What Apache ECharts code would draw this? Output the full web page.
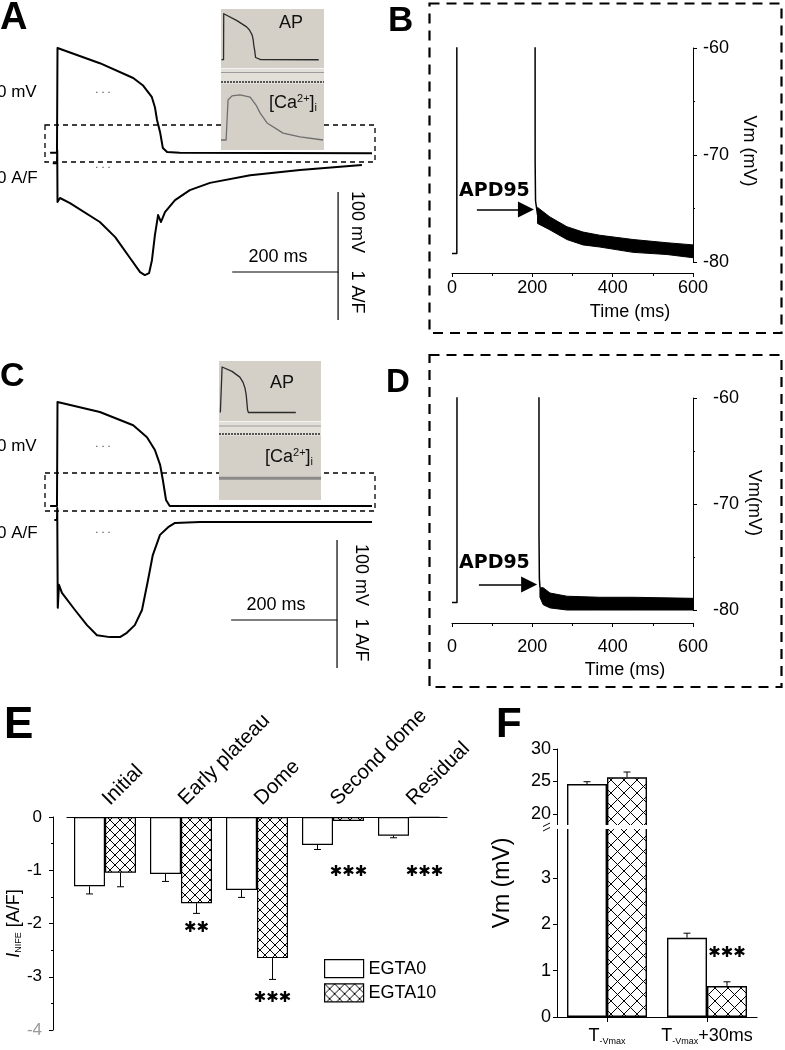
<!DOCTYPE html>
<html>
<head>
<meta charset="utf-8">
<script src="https://cdn.jsdelivr.net/npm/echarts@6.0.0/dist/echarts.min.js"></script>
<style>
html,body{margin:0;padding:0;background:#fff;}
#chart{width:785px;height:1050px;}
</style>
</head>
<body>
<div id="chart"></div>
<script>
// ================= DATA =================
// Panel A (EGTA0): action potential (mV) and I_NIFE (A/F) vs time (ms)
const apA_t = [-13, 0, 1, 81, 144, 162, 179, 185, 189, 195, 200, 208, 232, 595];
const apA_v = [-76, -76, 55, 36, 17.5, 8.5, -6, -19, -35, -51, -70, -75, -76, -76.5];
const inaA_t = [-8, 0, 0.5, 1, 5.7, 24.6, 81, 110, 138, 157, 166, 174, 179.4, 185, 191, 196.5, 204, 223, 251, 289, 365, 459, 576];
const inaA_a = [0.1, 0.1, 0.375, -0.71, -0.625, -0.73, -1.125, -1.44, -1.875, -2.17, -2.23, -2.19, -1.92, -1.4, -0.98, -1.125, -0.92, -0.67, -0.46, -0.31, -0.15, -0.04, 0.06];
// inset A: [Ca2+]i (F/F0)
const caA_t = [-16, 16, 28, 53, 103, 166, 203, 228, 272, 372, 478, 622];
const caA_r = [1.0, 1.0, 1.87, 1.96, 1.98, 1.93, 1.76, 1.59, 1.37, 1.15, 1.07, 1.0];
// scale bars A: 200 ms, 100 mV, 1 A/F
const scaleA_t = [331, 531];
const scaleA_mv = [-125, -225];
const scaleA_af = [-2.167, -3.167];

// Panel B (EGTA0): repolarisation detail
const apB_t = [0, 12, 12.2, 206, 207, 208, 213];
const apB_v = [-79.2, -79.2, 40, 40, -70.7, -74.3, -75.6];
const bandB_t = [213, 244, 286, 326, 368, 451, 535, 600];
const bandB_up = [-74.9, -75.8, -76.7, -77.2, -77.5, -77.9, -78.2, -78.4];
const bandB_lo = [-76.4, -77.0, -77.9, -78.4, -78.6, -79.1, -79.3, -79.6];
const apdArrowB_t = [62, 184];
const apdArrowB_v = -75.1;

// Panel C (EGTA10)
const apC_t = [-13, 0, 1, 81, 144, 170, 185, 195, 200, 206, 213, 595];
const apC_v = [-75, -75, 55, 42.5, 26, 11, -5, -24, -42.5, -67.5, -75, -75];
const inaC_t = [-5, 0, 0.5, 1.5, 3.8, 9.4, 34, 56.7, 75.6, 100, 119, 132, 147, 160.6, 172, 181, 194.6, 210, 223, 270, 595];
const inaC_a = [0.25, 0.25, 0.5, -1.58, -1.1, -1.27, -1.625, -1.94, -2.15, -2.19, -2.19, -2.1, -1.94, -1.625, -1.0, -0.48, -0.06, 0.1, 0.19, 0.21, 0.21];
const caC_t = [-24, 798];
const caC_r = [1.3, 1.3];
const scaleC_t = [329, 529];
const scaleC_mv = [-117.5, -217.5];
const scaleC_af = [-1.833, -2.833];

// Panel D (EGTA10)
const apD_t = [0, 12.4, 12.6, 216, 216.6, 217.5, 219];
const apD_v = [-79.3, -79.3, 40, 40, -72.9, -77.0, -77.9];
const bandD_t = [219, 227, 244, 286, 368, 451, 600];
const bandD_up = [-77.9, -77.9, -78.4, -78.7, -78.8, -78.8, -78.9];
const bandD_lo = [-78.8, -79.5, -79.8, -80, -80, -80, -80];
const apdArrowD_t = [67, 192];
const apdArrowD_v = -77.6;

// Panel E: I_NIFE per phase
const catsE = ['Initial', 'Early plateau', 'Dome', 'Second dome', 'Residual'];
const egta0E = [-1.30, -1.07, -1.37, -0.525, -0.35];
const egta0E_err = [0.145, 0.14, 0.14, 0.085, 0.04];
const egta10E = [-1.045, -1.62, -2.65, -0.075, -0.015];
const egta10E_err = [0.265, 0.19, 0.40, 0, 0];
const sigE = ['', '✱✱', '✱✱✱', '✱✱✱', '✱✱✱'];
const sigE_y = [null, -2.08, -3.40, -1.03, -1.03];

// Panel F: Vm
const catsF = ['T-Vmax', 'T-Vmax+30ms'];
const egta0F = [24.6, 1.71];
const egta0F_err = [0.37, 0.10];
const egta10F = [25.64, 0.67];
const egta10F_err = [0.82, 0.09];
const sigF = ['', '✱✱✱'];
const sigF_y = [null, 1.38];

// ================= HELPERS =================
const FONT = '"Liberation Sans", Arial, Helvetica, sans-serif';
const zip = (a, b) => a.map((v, i) => [v, b[i]]);

function hatchCanvas(size) {
  const c = document.createElement('canvas');
  c.width = size; c.height = size;
  const g = c.getContext('2d');
  g.fillStyle = '#fff'; g.fillRect(0, 0, size, size);
  g.strokeStyle = '#000'; g.lineWidth = 1;
  g.beginPath();
  g.moveTo(0, 0); g.lineTo(size, size);
  g.moveTo(size, 0); g.lineTo(0, size);
  g.stroke();
  return c;
}
const patE = { image: hatchCanvas(10), repeat: 'repeat' };
const patF = { image: hatchCanvas(13), repeat: 'repeat' };

function trace(xi, yi, data, width, color, extra) {
  return Object.assign({
    type: 'line', xAxisIndex: xi, yAxisIndex: yi, data: data,
    showSymbol: false, symbol: 'none', clip: true, silent: true, animation: false,
    lineStyle: { color: color || '#000', width: width || 1.5, join: 'round' }, z: 3
  }, extra || {});
}

function arrowMark(t, v) {
  return {
    silent: true, animation: false, symbol: ['none', 'triangle'], symbolSize: 16,
    lineStyle: { color: '#000', width: 1.5, type: 'solid' }, label: { show: false },
    itemStyle: { color: '#000' },
    data: [[{ coord: [t[0], v] }, { coord: [t[1], v] }]]
  };
}

function bandSeries(xi, yi, t, up, lo) {
  return {
    type: 'custom', xAxisIndex: xi, yAxisIndex: yi, silent: true, animation: false, z: 3,
    data: [[t[0], up[0]]],
    renderItem: function (params, api) {
      const pts = t.map((tt, i) => api.coord([tt, up[i]]))
        .concat(t.map((tt, i) => api.coord([tt, lo[i]])).reverse());
      return { type: 'polygon', shape: { points: pts }, style: { fill: '#000', stroke: '#000', lineWidth: 1 } };
    }
  };
}

function errSeries(xi, yi, vals, errs, side, bw) {
  return {
    type: 'custom', xAxisIndex: xi, yAxisIndex: yi, silent: true, animation: false, clip: true, z: 4,
    data: vals.map((v, i) => [i, v, errs[i]]),
    renderItem: function (params, api) {
      const i = api.value(0), v = api.value(1), e = api.value(2);
      if (!e) return null;
      const sgn = v < 0 ? -1 : 1;
      const p0 = api.coord([i, v]);
      const p1 = api.coord([i, v + sgn * e]);
      const x = p0[0] + side * bw / 2;
      return {
        type: 'group', children: [
          { type: 'line', shape: { x1: x, y1: p0[1], x2: x, y2: p1[1] }, style: { stroke: '#000', lineWidth: 1 } },
          { type: 'line', shape: { x1: x - 3.5, y1: p1[1], x2: x + 3.5, y2: p1[1] }, style: { stroke: '#000', lineWidth: 1 } }
        ]
      };
    }
  };
}

function sigSeries(xi, yi, labels, ys, side, bw, size) {
  const data = [];
  labels.forEach((s, i) => { if (s) data.push([i, ys[i], i]); });
  return {
    type: 'custom', xAxisIndex: xi, yAxisIndex: yi, silent: true, animation: false, z: 6,
    data: data,
    renderItem: function (params, api) {
      const p = api.coord([api.value(0), api.value(1)]);
      return {
        type: 'text', x: p[0] + side * bw / 2, y: p[1],
        style: { text: labels[api.value(2)], fontSize: size, fontFamily: '"DejaVu Sans", sans-serif',
          fill: '#000', textAlign: 'center', textVerticalAlign: 'middle' }
      };
    }
  };
}

// rotated category labels for panel E, anchored at each category on the zero line
function catLabelSeries(xi, yi, cats) {
  return {
    type: 'custom', xAxisIndex: xi, yAxisIndex: yi, silent: true, animation: false, z: 6,
    data: cats.map((c, i) => [i, 0]),
    renderItem: function (params, api) {
      const p = api.coord([api.value(0), api.value(1)]);
      return {
        type: 'text', x: p[0] + 1, y: p[1] - 15, rotation: Math.PI / 4,
        style: { text: cats[params.dataIndex], fontSize: 20.5, fontFamily: FONT, fill: '#000',
          textAlign: 'left', textVerticalAlign: 'middle' }
      };
    }
  };
}

function txt(x, y, text, o) {
  o = o || {};
  return {
    type: 'text', x: x, y: y, rotation: o.rot || 0, z: o.z || 50, silent: true,
    scaleX: o.sx || 1,
    style: {
      text: text, fill: o.fill || '#000', fontSize: o.size || 18,
      fontFamily: o.family || FONT, fontWeight: o.bold ? 'bold' : 'normal',
      textAlign: o.align || 'left', textVerticalAlign: o.valign || 'middle',
      rich: o.rich
    }
  };
}
const hline = (x1, x2, y, stroke, w, dash, z) => ({ type: 'line', silent: true, z: z || 2,
  shape: { x1: x1, y1: y, x2: x2, y2: y }, style: { stroke: stroke, lineWidth: w, lineDash: dash || null } });

const caRich = {
  a: { fontSize: 18, fontFamily: FONT, fill: '#111' },
  sup: { fontSize: 11, fontFamily: FONT, fill: '#111', padding: [0, 0, 9, 0] },
  sub: { fontSize: 11, fontFamily: FONT, fill: '#111', padding: [9, 0, 0, 0] }
};

const axBlack = { show: true, onZero: false, lineStyle: { color: '#000', width: 1 } };
const tickBlack = (len, extra) => Object.assign({ show: true, length: len, lineStyle: { color: '#000', width: 1 } }, extra || {});
const hiddenX = (gi, min, max) => ({ type: 'value', gridIndex: gi, min: min, max: max, show: false });
const hiddenY = (gi, min, max) => ({ type: 'value', gridIndex: gi, min: min, max: max, show: false });

function traceAxisX(gi, offset, margin) {
  return {
    type: 'value', gridIndex: gi, min: 0, max: 600, interval: 200, offset: offset,
    axisLine: axBlack, axisTick: tickBlack(4),
    minorTick: { show: true, splitNumber: 2, length: 3, lineStyle: { color: '#000' } },
    axisLabel: { fontSize: 18, color: '#000', margin: margin, fontFamily: FONT },
    splitLine: { show: false }, minorSplitLine: { show: false }
  };
}
function traceAxisY(gi, margin) {
  return {
    type: 'value', gridIndex: gi, min: -80, max: -60, interval: 10, position: 'right',
    axisLine: axBlack, axisTick: tickBlack(4),
    minorTick: { show: true, splitNumber: 2, length: 2, lineStyle: { color: '#000' } },
    axisLabel: { fontSize: 18, color: '#000', margin: margin, fontFamily: FONT },
    splitLine: { show: false }, minorSplitLine: { show: false }
  };
}

// ================= OPTION =================
const gridsPos = [
  { left: 30.5, top: 10, width: 360, height: 320 },   // 0 A main
  { left: 221, top: 9, width: 103, height: 141 },     // 1 A inset
  { left: 452, top: 48, width: 241, height: 214 },    // 2 B
  { left: 30.5, top: 364, width: 360, height: 320 },  // 3 C main
  { left: 219, top: 361, width: 102, height: 139 },   // 4 C inset
  { left: 452, top: 398, width: 241, height: 212 },   // 5 D
  { left: 67, top: 817, width: 380, height: 213 },    // 6 E
  { left: 557, top: 749, width: 200, height: 78 },    // 7 F upper
  { left: 557, top: 827, width: 200, height: 190 }    // 8 F lower
];

const fLabelFmt = v => v.replace(/^T(-Vmax)(.*)$/, (m, a, b) => '{t|T}{s|' + a + '}' + (b ? '{t|' + b + '}' : ''));
const fRich = {
  t: { fontSize: 18, fontFamily: FONT, color: '#000' },
  s: { fontSize: 9, fontFamily: FONT, color: '#000', padding: [10, 0, 0, 0] }
};

const option = {
  backgroundColor: '#fff',
  animation: false,
  grid: gridsPos.map(g => Object.assign({ containLabel: false, outerBoundsMode: 'none' }, g)),
  xAxis: [
    hiddenX(0, -50, 630),
    hiddenX(1, -16, 628),
    traceAxisX(2, 11, 6),
    hiddenX(3, -50, 630),
    hiddenX(4, -24, 798),
    traceAxisX(5, 13, 15),
    {
      type: 'category', gridIndex: 6, data: catsE, position: 'top',
      axisLine: { show: true, onZero: false, lineStyle: { color: '#000', width: 1.2 } },
      axisTick: { show: false },
      axisLabel: { show: false }
    },
    { type: 'category', gridIndex: 7, data: catsF, show: false },
    {
      type: 'category', gridIndex: 8, data: catsF,
      axisLine: { show: true, onZero: false, lineStyle: { color: '#000', width: 1.2 } },
      axisTick: tickBlack(5, { alignWithLabel: true }),
      axisLabel: { interval: 0, margin: 10, formatter: fLabelFmt, rich: fRich }
    }
  ],
  yAxis: [
    hiddenY(0, -297.5, 102.5),            // 0 A mV
    hiddenY(0, -3.375, 3.2917),           // 1 A A/F
    hiddenY(1, -334.3, 68.57),            // 2 inset A AP
    hiddenY(1, 0.7826, 3.848),            // 3 inset A Ca
    traceAxisY(2, 10),                    // 4 B
    hiddenY(3, -297.5, 102.5),            // 5 C mV
    hiddenY(3, -3.1667, 3.5),             // 6 C A/F
    hiddenY(4, -325, 72.1),               // 7 inset C AP
    hiddenY(4, 0.826, 3.848),             // 8 inset C Ca
    traceAxisY(5, 20),                    // 9 D
    {                                     // 10 E
      type: 'value', gridIndex: 6, min: -4, max: 0, interval: 1, offset: 14,
      axisLine: axBlack, axisTick: tickBlack(4),
      minorTick: { show: true, splitNumber: 2, length: 2, lineStyle: { color: '#000' } },
      axisLabel: { fontSize: 17, margin: 11, fontFamily: FONT,
        color: v => (Number(v) === -4 ? '#9a9a9a' : '#000') },
      splitLine: { show: false }, minorSplitLine: { show: false },
      name: '{i|I}{s|NIFE}{n| [A/F]}', nameLocation: 'middle', nameGap: 23, nameRotate: 90,
      nameTextStyle: { rich: {
        i: { fontSize: 18, fontStyle: 'italic', fontFamily: FONT, color: '#000' },
        s: { fontSize: 9, fontFamily: FONT, color: '#000', padding: [9, 0, 0, 0] },
        n: { fontSize: 18, fontFamily: FONT, color: '#000' } } }
    },
    {                                     // 11 F upper
      type: 'value', gridIndex: 7, min: 18, max: 30,
      axisLine: axBlack, axisTick: tickBlack(4, { customValues: [20, 25, 30] }),
      axisLabel: { customValues: [20, 25, 30], fontSize: 18, margin: 6, color: '#000', fontFamily: FONT },
      splitLine: { show: false }
    },
    {                                     // 12 F lower
      type: 'value', gridIndex: 8, min: 0, max: 4.1037,
      axisLine: axBlack, axisTick: tickBlack(4, { customValues: [0, 1, 2, 3] }),
      axisLabel: { customValues: [0, 1, 2, 3], fontSize: 18, margin: 6, color: '#000', fontFamily: FONT },
      splitLine: { show: false }
    }
  ],
  legend: {
    data: ['EGTA0', 'EGTA10'], orient: 'vertical', left: 319, top: 954,
    itemWidth: 39, itemHeight: 18, itemGap: 5, selectedMode: false, icon: 'rect',
    itemStyle: { borderColor: '#000', borderWidth: 1.2 },
    textStyle: { fontSize: 18, color: '#000', fontFamily: FONT }
  },
  series: [
    // ---- A ----
    trace(0, 0, zip(apA_t, apA_v), 2),
    trace(0, 1, zip(inaA_t, inaA_a), 2),
    trace(0, 0, [[scaleA_t[0], scaleA_mv[1]], [scaleA_t[1], scaleA_mv[1]], [scaleA_t[1], scaleA_mv[0]]], 1.2),
    trace(0, 1, [[scaleA_t[1], scaleA_af[0]], [scaleA_t[1], scaleA_af[1]]], 1.2),
    trace(1, 2, zip(apA_t, apA_v), 1.3, '#2a2a2a', { z: 10 }),
    trace(1, 3, zip(caA_t, caA_r), 1.3, '#6e6e6e', { z: 10 }),
    // ---- B ----
    trace(2, 4, zip(apB_t, apB_v), 1.5, '#000', { markLine: arrowMark(apdArrowB_t, apdArrowB_v) }),
    bandSeries(2, 4, bandB_t, bandB_up, bandB_lo),
    // ---- C ----
    trace(3, 5, zip(apC_t, apC_v), 2),
    trace(3, 6, zip(inaC_t, inaC_a), 2),
    trace(3, 5, [[scaleC_t[0], scaleC_mv[1]], [scaleC_t[1], scaleC_mv[1]], [scaleC_t[1], scaleC_mv[0]]], 1.2),
    trace(3, 6, [[scaleC_t[1], scaleC_af[0]], [scaleC_t[1], scaleC_af[1]]], 1.2),
    trace(4, 7, zip(apC_t, apC_v), 1.3, '#2a2a2a', { z: 10 }),
    trace(4, 8, zip(caC_t, caC_r), 3, '#8a8a8a', { z: 10 }),
    // ---- D ----
    trace(5, 9, zip(apD_t, apD_v), 1.5, '#000', { markLine: arrowMark(apdArrowD_t, apdArrowD_v) }),
    bandSeries(5, 9, bandD_t, bandD_up, bandD_lo),
    // ---- E ----
    { type: 'bar', name: 'EGTA0', xAxisIndex: 6, yAxisIndex: 10, data: egta0E, barWidth: 31, barGap: '0%',
      silent: true, itemStyle: { color: '#fff', borderColor: '#000', borderWidth: 1.2 }, z: 3 },
    { type: 'bar', name: 'EGTA10', xAxisIndex: 6, yAxisIndex: 10, data: egta10E, barWidth: 31, barGap: '0%',
      silent: true, itemStyle: { color: patE, borderColor: '#000', borderWidth: 1.2 }, z: 3 },
    errSeries(6, 10, egta0E, egta0E_err, -1, 31),
    errSeries(6, 10, egta10E, egta10E_err, 1, 31),
    sigSeries(6, 10, sigE, sigE_y, 1, 31, 15),
    catLabelSeries(6, 10, catsE),
    // ---- F upper ----
    { type: 'bar', name: 'EGTA0', xAxisIndex: 7, yAxisIndex: 11, data: egta0F, barWidth: 40, barGap: '0%',
      silent: true, clip: true, itemStyle: { color: '#fff', borderColor: '#000', borderWidth: 1.4 }, z: 3 },
    { type: 'bar', name: 'EGTA10', xAxisIndex: 7, yAxisIndex: 11, data: egta10F, barWidth: 40, barGap: '0%',
      silent: true, clip: true, itemStyle: { color: patF, borderColor: '#000', borderWidth: 1.4 }, z: 3 },
    errSeries(7, 11, egta0F, egta0F_err, -1, 40),
    errSeries(7, 11, egta10F, egta10F_err, 1, 40),
    // ---- F lower ----
    { type: 'bar', name: 'EGTA0', xAxisIndex: 8, yAxisIndex: 12, data: egta0F, barWidth: 40, barGap: '0%',
      silent: true, clip: true, itemStyle: { color: '#fff', borderColor: '#000', borderWidth: 1.4 }, z: 3 },
    { type: 'bar', name: 'EGTA10', xAxisIndex: 8, yAxisIndex: 12, data: egta10F, barWidth: 40, barGap: '0%',
      silent: true, clip: true, itemStyle: { color: patF, borderColor: '#000', borderWidth: 1.4 }, z: 3 },
    errSeries(8, 12, egta0F, egta0F_err, -1, 40),
    errSeries(8, 12, egta10F, egta10F_err, 1, 40),
    sigSeries(8, 12, sigF, sigF_y, 1, 40, 15)
  ],
  graphic: { elements: [
    // dashed frames around B and D
    { type: 'rect', silent: true, z: 0, shape: { x: 429.5, y: 3.5, width: 352, height: 329.5 },
      style: { fill: null, stroke: '#000', lineWidth: 2.2, lineDash: [10, 7] } },
    { type: 'rect', silent: true, z: 0, shape: { x: 429.5, y: 355, width: 352, height: 332 },
      style: { fill: null, stroke: '#000', lineWidth: 2.2, lineDash: [10, 7] } },
    // dashed zoom windows in A and C
    { type: 'rect', silent: true, z: 0, shape: { x: 45, y: 125, width: 330, height: 37 },
      style: { fill: null, stroke: '#000', lineWidth: 1.3, lineDash: [5, 4] } },
    { type: 'rect', silent: true, z: 0, shape: { x: 45, y: 473, width: 330, height: 38 },
      style: { fill: null, stroke: '#000', lineWidth: 1.3, lineDash: [5, 4] } },
    // inset backgrounds
    { type: 'rect', silent: true, z: 1, shape: { x: 221, y: 9, width: 103, height: 141 }, style: { fill: '#d4d0c8' } },
    { type: 'rect', silent: true, z: 1, shape: { x: 221, y: 68, width: 103, height: 16 }, style: { fill: '#e2dfd9' } },
    hline(221, 324, 68.5, '#f4f4f4', 1, null, 1),
    hline(221, 324, 72.5, '#9c9c9c', 1, null, 1),
    hline(221, 324, 82, '#555', 2, [2, 1], 1),
    { type: 'rect', silent: true, z: 1, shape: { x: 219, y: 361, width: 102, height: 139 }, style: { fill: '#d4d0c8' } },
    { type: 'rect', silent: true, z: 1, shape: { x: 219, y: 421, width: 102, height: 15 }, style: { fill: '#e2dfd9' } },
    hline(219, 321, 421.5, '#f4f4f4', 1, null, 1),
    hline(219, 321, 426, '#9c9c9c', 1, null, 1),
    hline(219, 321, 434, '#555', 2, [2, 1], 1),
    // F axis-break cover and marks
    { type: 'rect', silent: true, z: 100, shape: { x: 540, y: 825, width: 220, height: 4 }, style: { fill: '#fff' } },
    { type: 'line', silent: true, z: 101, shape: { x1: 543, y1: 826.5, x2: 550, y2: 823 }, style: { stroke: '#000', lineWidth: 1 } },
    { type: 'line', silent: true, z: 101, shape: { x1: 543, y1: 831, x2: 550, y2: 827.5 }, style: { stroke: '#000', lineWidth: 1 } },
    // panel letters
    txt(0, 19, 'A', { size: 38, bold: true }),
    txt(388, 21, 'B', { size: 35, bold: true }),
    txt(0, 377, 'C', { size: 34, bold: true }),
    txt(386, 383, 'D', { size: 33, bold: true }),
    txt(4, 726, 'E', { size: 44, bold: true }),
    txt(496, 725, 'F', { size: 42, bold: true }),
    // A labels
    txt(-3, 92, '0 mV', { size: 17 }),
    txt(-3, 178, '0 A/F', { size: 17 }),
    txt(103, 90, '. . .', { size: 11, fill: '#444', align: 'center' }),
    txt(103, 165, '. . .', { size: 11, fill: '#444', align: 'center' }),
    txt(278, 257, '200 ms', { size: 18, align: 'center' }),
    txt(357, 222, '100 mV', { size: 18, align: 'center', rot: -Math.PI / 2 }),
    txt(357, 292, '1 A/F', { size: 18, align: 'center', rot: -Math.PI / 2 }),
    txt(291, 23, 'AP', { size: 18, align: 'center', fill: '#111', z: 60 }),
    txt(293, 103, '{a|[Ca}{sup|2+}{a|]}{sub|i}', { size: 18, align: 'center', rich: caRich, z: 60 }),
    // C labels
    txt(-3, 446, '0 mV', { size: 17 }),
    txt(-3, 533, '0 A/F', { size: 17 }),
    txt(103, 444, '. . .', { size: 11, fill: '#444', align: 'center' }),
    txt(103, 530, '. . .', { size: 11, fill: '#444', align: 'center' }),
    txt(276, 605, '200 ms', { size: 18, align: 'center' }),
    txt(361, 575, '100 mV', { size: 18, align: 'center', rot: -Math.PI / 2 }),
    txt(361, 640, '1 A/F', { size: 18, align: 'center', rot: -Math.PI / 2 }),
    txt(282, 383, 'AP', { size: 18, align: 'center', fill: '#111', z: 60 }),
    txt(289, 457, '{a|[Ca}{sup|2+}{a|]}{sub|i}', { size: 18, align: 'center', rich: caRich, z: 60 }),
    // B labels
    txt(459, 191, 'APD95', { size: 19, bold: true, family: '"DejaVu Sans", sans-serif' }),
    txt(630, 312, 'Time (ms)', { size: 18, align: 'center' }),
    txt(749, 151, 'Vm (mV)', { size: 18, align: 'center', rot: -Math.PI / 2 }),
    // D labels
    txt(459, 563, 'APD95', { size: 19, bold: true, family: '"DejaVu Sans", sans-serif' }),
    txt(625, 670, 'Time (ms)', { size: 18, align: 'center' }),
    txt(754, 503, 'Vm(mV)', { size: 18, align: 'center', rot: -Math.PI / 2 }),
    // F y label
    txt(503, 883, 'Vm (mV)', { size: 23, align: 'center', rot: Math.PI / 2 })
  ] }
};

const chart = echarts.init(document.getElementById('chart'), null, { renderer: 'canvas', width: 785, height: 1050 });
chart.setOption(option);
</script>
</body>
</html>
